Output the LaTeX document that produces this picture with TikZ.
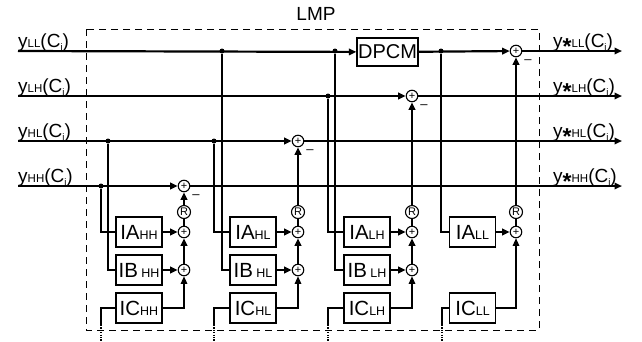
\documentclass[tikz,border=0pt]{standalone}
\usepackage{fontspec}
\setmainfont{Liberation Sans}
\usetikzlibrary{arrows.meta}
\newcommand{\lsub}[1]{{\fontsize{11.5}{11.5}\selectfont #1}}
\newcommand{\bsub}[1]{{\fontsize{12.5}{12.5}\selectfont #1}}
\newcommand{\isub}{\raisebox{-2.5pt}{\fontsize{9.5}{9.5}\selectfont i}}
\newcommand{\ystar}{y\raisebox{-7pt}{\fontsize{23}{23}\selectfont\bfseries *}}
\begin{document}
\begin{tikzpicture}[x=1pt, y=-1pt, >={Triangle[length=7.5pt,width=6.5pt]},
	main/.style={line width=2.2pt},
	feed/.style={line width=1.3pt},
	blk/.style={draw, line width=1.3pt, minimum width=46pt, minimum height=30pt, inner sep=0pt, font=\fontsize{20.5}{20.5}\selectfont},
	sum/.style={draw, circle, line width=1.1pt, minimum size=11.5pt, inner sep=0pt, font=\fontsize{11}{11}\selectfont},
	rnd/.style={draw, circle, line width=1.1pt, minimum size=13pt, inner sep=0pt, font=\fontsize{11}{11}\selectfont},
	dot/.style={circle, fill, minimum size=5pt, inner sep=0pt},
	lbl/.style={anchor=base west, inner sep=0pt, font=\fontsize{19}{19}\selectfont},
	minus/.style={inner sep=0pt, font=\fontsize{13}{13}\selectfont},
	tail/.style={line width=2.2pt, dash pattern=on 1.2pt off 1.2pt}]
	\useasboundingbox (0,0) rectangle (642,341);
	% frame
	\draw [line width=1pt, dash pattern=on 7pt off 5pt] (86,29) rectangle (539,330);
	\node [font=\fontsize{19}{19}\selectfont] (lmp) at (316,14) {LMP};
	% signal lines
	\coordinate (inLL) at (18,51);
	\coordinate (inLH) at (18,96);
	\coordinate (inHL) at (18,141);
	\coordinate (inHH) at (18,186);
	\coordinate (outLL) at (622,51);
	\coordinate (outLH) at (622,96);
	\coordinate (outHL) at (622,141);
	\coordinate (outHH) at (622,186);
	\node [lbl] (lLL) at (18,47.5) {y\lsub{LL}(C\isub)};
	\node [lbl] (lLH) at (18,92.5) {y\lsub{LH}(C\isub)};
	\node [lbl] (lHL) at (18,137.5) {y\lsub{HL}(C\isub)};
	\node [lbl] (lHH) at (18,182.5) {y\lsub{HH}(C\isub)};
	\node [lbl] (rLL) at (553,47.5) {\ystar\lsub{LL}(C\isub)};
	\node [lbl] (rLH) at (553,92.5) {\ystar\lsub{LH}(C\isub)};
	\node [lbl] (rHL) at (553,137.5) {\ystar\lsub{HL}(C\isub)};
	\node [lbl] (rHH) at (553,182.5) {\ystar\lsub{HH}(C\isub)};
	\node [blk, minimum width=61pt, minimum height=28pt, font=\fontsize{20}{20}\selectfont] (dpcm) at (387.5,52) {DPCM};
	% top adders
	\node [sum] (tLL) at (516,51) {+};
	\node [sum] (tLH) at (412,96) {+};
	\node [sum] (tHL) at (298,141) {+};
	\node [sum] (tHH) at (184,186) {+};
	\node [minus] (mLL) at (528,62) {--};
	\node [minus] (mLH) at (424,107) {--};
	\node [minus] (mHL) at (310,152) {--};
	\node [minus] (mHH) at (196,197) {--};
	% branch points
	\node [dot] (dHH) at (101,186) {};
	\node [dot] (dHLa) at (108,141) {};
	\node [dot] (dHLb) at (214,141) {};
	\node [dot] (dLLa) at (222,51) {};
	\node [dot] (dLHa) at (328,96) {};
	\node [dot] (dLLb) at (335,51) {};
	\node [dot] (dLLc) at (441,51) {};
	% column HH
	\node [blk] (iaHH) at (139,232) {IA\bsub{HH}};
	\node [blk] (ibHH) at (139,270) {IB\,\bsub{HH}};
	\node [blk] (icHH) at (139,308) {IC\bsub{HH}};
	\node [rnd] (rdHH) at (184,212) {R};
	\node [sum] (aHH) at (184,232) {+};
	\node [sum] (bHH) at (184,270) {+};
	\coordinate (cHH) at (101,325);
	\coordinate (eHH) at (101,341);
	% column HL
	\node [blk] (iaHL) at (253,232) {IA\bsub{HL}};
	\node [blk] (ibHL) at (253,270) {IB\,\bsub{HL}};
	\node [blk] (icHL) at (253,308) {IC\bsub{HL}};
	\node [rnd] (rdHL) at (298,212) {R};
	\node [sum] (aHL) at (298,232) {+};
	\node [sum] (bHL) at (298,270) {+};
	\coordinate (cHL) at (214,325);
	\coordinate (eHL) at (214,341);
	% column LH
	\node [blk] (iaLH) at (367,232) {IA\bsub{LH}};
	\node [blk] (ibLH) at (367,270) {IB\,\bsub{LH}};
	\node [blk] (icLH) at (367,308) {IC\bsub{LH}};
	\node [rnd] (rdLH) at (412,212) {R};
	\node [sum] (aLH) at (412,232) {+};
	\node [sum] (bLH) at (412,270) {+};
	\coordinate (cLH) at (328,325);
	\coordinate (eLH) at (328,341);
	% column LL
	\node [blk] (iaLL) at (472.5,232) {IA\bsub{LL}};
	\node [blk] (icLL) at (472.5,308) {IC\bsub{LL}};
	\node [rnd] (rdLL) at (516,212) {R};
	\node [sum] (aLL) at (516,232) {+};
	\coordinate (cLL) at (442,325);
	\coordinate (eLL) at (442,341);
	% main lines
	\draw [main,->] (inLL) -- (dpcm);
	\draw [main,->] (dpcm) -- (tLL);
	\draw [main,->] (tLL) -- (outLL);
	\draw [main,->] (inLH) -- (tLH);
	\draw [main,->] (tLH) -- (outLH);
	\draw [main,->] (inHL) -- (tHL);
	\draw [main,->] (tHL) -- (outHL);
	\draw [main,->] (inHH) -- (tHH);
	\draw [main,->] (tHH) -- (outHH);
	% branches into the blocks
	\draw [feed] (dHH) |- (iaHH.west);
	\draw [feed] (dHLa) |- (ibHH.west);
	\draw [feed] (dHLb) |- (iaHL.west);
	\draw [feed] (dLLa) |- (ibHL.west);
	\draw [feed] (dLHa) |- (iaLH.west);
	\draw [feed] (dLLb) |- (ibLH.west);
	\draw [feed] (dLLc) |- (iaLL.west);
	% HH
	\draw [main,->] (iaHH) -- (aHH);
	\draw [main,->] (ibHH) -- (bHH);
	\draw [main,->] (bHH) -- (aHH);
	\draw [main] (aHH) -- (rdHH);
	\draw [main,->] (rdHH) -- (tHH);
	\draw [feed,->] (icHH.east) -| (bHH);
	\draw [feed] (icHH.west) -| (cHH);
	\draw [tail] (cHH) -- (eHH);
	% HL
	\draw [main,->] (iaHL) -- (aHL);
	\draw [main,->] (ibHL) -- (bHL);
	\draw [main,->] (bHL) -- (aHL);
	\draw [main] (aHL) -- (rdHL);
	\draw [main,->] (rdHL) -- (tHL);
	\draw [feed,->] (icHL.east) -| (bHL);
	\draw [feed] (icHL.west) -| (cHL);
	\draw [tail] (cHL) -- (eHL);
	% LH
	\draw [main,->] (iaLH) -- (aLH);
	\draw [main,->] (ibLH) -- (bLH);
	\draw [main,->] (bLH) -- (aLH);
	\draw [main] (aLH) -- (rdLH);
	\draw [main,->] (rdLH) -- (tLH);
	\draw [feed,->] (icLH.east) -| (bLH);
	\draw [feed] (icLH.west) -| (cLH);
	\draw [tail] (cLH) -- (eLH);
	% LL
	\draw [main,->] (iaLL) -- (aLL);
	\draw [main] (aLL) -- (rdLL);
	\draw [main,->] (rdLL) -- (tLL);
	\draw [feed,->] (icLL.east) -| (aLL);
	\draw [feed] (icLL.west) -| (cLL);
	\draw [tail] (cLL) -- (eLL);
\end{tikzpicture}
\end{document}
